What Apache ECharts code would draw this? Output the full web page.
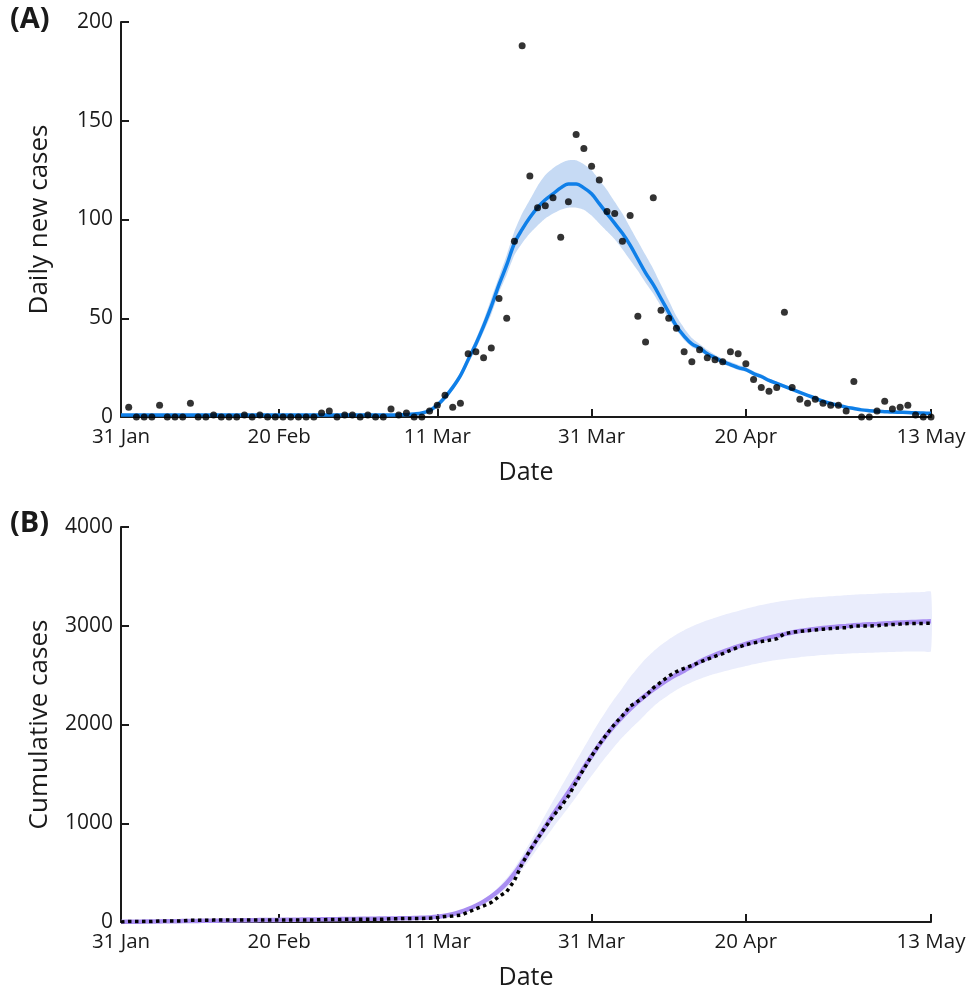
<!DOCTYPE html>
<html><head><meta charset="utf-8">
<script src="https://cdn.jsdelivr.net/npm/echarts@6/dist/echarts.min.js"></script>
<style>html,body{margin:0;padding:0;background:#fff}#c{width:975px;height:992px}</style>
</head><body><div id="c"></div>
<script>
// ---- x axis (day index: 0 = 31 Jan) ----
const dayTicks = [0, 20.5, 41, 61, 81, 105];
const dayTickLabels = ['31 Jan', '20 Feb', '11 Mar', '31 Mar', '20 Apr', '13 May'];

// ---- Panel A: daily new cases (observed dots start at day 1) ----
const dailyStartDay = 1;
const dailyCases = [
  5,0,0,0,6,0,0,0,7,0, 0,1,0,0,0,1,0,1,0,0,
  0,0,0,0,0,2,3,0,1,1, 0,1,0,0,4,1,2,0,0,3,
  6,11,5,7,32,33,30,35,60,50, 89,188,122,106,107,111,91,109,143,136,
  127,120,104,103,89,102,51,38,111,54, 50,45,33,28,34,30,29,28,33,32,
  27,19,15,13,15,53,15,9,7,9, 7,6,6,3,18,0,0,3,8,4,
  5,6,1,0,0
];
// fitted daily curve, days 0..105
const fitDaily = [
  1,1,1,1,1,1,1,1,1,1, 1,1,1,1,1,1,1,1,1,1,
  1,1,1,1,1,1,1,1,1,1, 1,1,1,1,1,1,1.1,1.2,1.5,2,
  3.3,6,10,15,21,29,37,46,56,67, 77,88,95,101,106,110,113,116,118,118,
  116,113,108,103,98,93,87,80,73,67, 60,53,46,41,37,35,32,30,28,26.5,
  25,24,22,20.5,18.5,17,15.5,14,12.5,11, 9.5,8,6.8,6,5,4.3,3.6,3.2,2.9,2.7,
  2.5,2.4,2.3,2.1,2,1.9
];
// confidence band of the daily fit, from day 36
const bandStartA = 36;
const fitDailyUpper = [
  1.3,1.5,1.8,2.3,
  3.5,6.5,11,16.5,22.5,31,39.5,49,60,71,
  82,94,103,110,117,122.5,126,128.5,130,130,
  128,125,120,115,109,103,96,89,82,75,
  67,59,51,45,40,37,34,31.5,29.5,28,
  26.5,25.2,23.2,21.6,19.5,18,16.4,14.8,13.2,11.6,
  10,8.5,7.2,6.3,5.3,4.6,3.9,3.4,3.1,2.9,
  2.7,2.6,2.5,2.3,2.2,2.1
];
const fitDailyLower = [
  0.9,1.0,1.3,1.8,
  3.1,5.5,9,13.5,19.5,27,34.5,43,52,63,
  72,82,88,93,97,100.5,103,105,106,106,
  105,102,98,94,90,85,79.5,74,68,62.5,
  56,50,44,39,35.5,33.5,30.7,28.8,26.8,25.3,
  23.8,22.9,21,19.5,17.6,16.1,14.7,13.3,11.9,10.5,
  9,7.6,6.4,5.7,4.8,4.1,3.4,3.0,2.7,2.5,
  2.3,2.2,2.1,1.9,1.8,1.7
];

// ---- Panel B: cumulative cases, days 0..105 ----
const cumObserved = [
  0,5,5,5,5,11,11,11,11,18, 18,18,19,19,19,19,20,20,21,21,
  21,21,21,21,21,21,23,26,26,27, 28,28,29,29,29,33,34,36,36,36,
  39,45,56,61,68,100,133,163,198,258, 308,420,590,725,845,960,1070,1165,1275,1415,
  1550,1680,1800,1905,2005,2090,2185,2235,2290,2370, 2430,2490,2535,2568,2597,2630,2660,2690,2718,2750,
  2782,2808,2826,2840,2853,2868,2920,2934,2943,2950, 2958,2965,2971,2977,2980,2997,2997,2997,3000,3008,
  3012,3017,3023,3024,3024,3025
];
const cumFit = [
  1,2,3,4,5,6,7,8,9,10, 11,12,13,14,15,16,17,18,19,20,
  21,22,23,24,25,26,27,28,29,30, 31,32,33,34,35,36,37,38,40,42,
  46,53,64,80,102,130,165,207,258,320, 395,490,600,720,845,965,1085,1200,1315,1435,
  1560,1680,1795,1900,1995,2080,2158,2230,2295,2355, 2410,2460,2505,2545,2590,2635,2672,2705,2735,2763,
  2790,2815,2838,2860,2880,2898,2915,2932,2946,2958, 2968,2977,2985,2992,2998,3004,3009,3014,3019,3024,
  3028,3032,3036,3039,3042,3045
];
const bandStartB = 38;
const cumUpper = [
  42,44,49,57,70,89,114,
  145,183,229,285,360,
  445,550,672,805,945,1085,1225,1360,1495,1630,
  1765,1900,2030,2150,2265,2370,2480,2575,2665,2740,
  2805,2862,2912,2955,2992,3025,3055,3082,3107,3130,
  3150,3172,3192,3210,3226,3240,3252,3263,3273,3281,
  3288,3294,3300,3305,3310,3314,3318,3322,3325,3328,
  3331,3334,3337,3339,3342,3344
];
const cumLower = [
  38,40,43,49,58,72,91,
  116,146,182,227,280,
  350,435,530,635,745,850,955,1058,1160,1265,
  1375,1480,1585,1685,1780,1870,1950,2025,2105,2180,
  2245,2300,2350,2392,2428,2460,2488,2513,2535,2555,
  2574,2592,2610,2626,2640,2652,2663,2673,2682,2690,
  2697,2703,2708,2713,2717,2721,2724,2727,2730,2732,
  2734,2736,2738,2739,2740,2741
];

// ---- helpers (build library data from the arrays) ----
const pairs = (start, arr) => arr.map((v, i) => [start + i, v]);

// band drawn as one polygon through the axes' own coordinate system
function bandSeries(xi, yi, start, upper, lower, color) {
  return {
    type: 'custom', xAxisIndex: xi, yAxisIndex: yi, silent: true, z: 1,
    data: [[start, upper[0]]],
    renderItem: (params, api) => {
      const pts = [];
      for (let i = 0; i < upper.length; i++) pts.push(api.coord([start + i, upper[i]]));
      for (let i = lower.length - 1; i >= 0; i--) pts.push(api.coord([start + i, lower[i]]));
      return { type: 'polygon', shape: { points: pts, smooth: 0.2 }, style: { fill: color } };
    }
  };
}

const FONT = 'Open Sans';
const INK = '#1a1a1a';

function xAxisCfg(gi) {
  return {
    type: 'value', gridIndex: gi, min: 0, max: 105,
    name: 'Date', nameLocation: 'middle', nameGap: 43,
    nameTextStyle: { fontFamily: FONT, fontSize: 25, color: INK },
    axisLine: { show: true, onZero: false, lineStyle: { color: INK, width: 2 } },
    axisTick: { show: true, inside: true, length: 8, customValues: dayTicks, lineStyle: { color: INK, width: 2 } },
    axisLabel: {
      customValues: dayTicks, margin: 10, fontFamily: FONT, fontSize: 20.5, color: INK,
      formatter: v => { const i = dayTicks.indexOf(v); return i >= 0 ? dayTickLabels[i] : ''; }
    },
    splitLine: { show: false }
  };
}
function yAxisCfg(gi, max, interval, name) {
  return {
    type: 'value', gridIndex: gi, min: 0, max: max, interval: interval,
    name: name, nameLocation: 'middle', nameGap: 68, nameRotate: 90,
    nameTextStyle: { fontFamily: FONT, fontSize: 26, color: INK },
    axisLine: { show: true, lineStyle: { color: INK, width: 2 } },
    axisTick: { show: true, inside: true, length: 8, lineStyle: { color: INK, width: 2 } },
    axisLabel: { margin: 8, fontFamily: FONT, fontSize: 21, color: INK, formatter: v => String(v) },
    splitLine: { show: false }
  };
}

const chart = echarts.init(document.getElementById('c'), null, { renderer: 'canvas' });
chart.setOption({
  backgroundColor: '#fff',
  animation: false,
  grid: [
    { left: 121, width: 810, top: 22, height: 395 },
    { left: 121, width: 810, top: 527, height: 395 }
  ],
  xAxis: [xAxisCfg(0), xAxisCfg(1)],
  yAxis: [yAxisCfg(0, 200, 50, 'Daily new cases'), yAxisCfg(1, 4000, 1000, 'Cumulative cases')],
  graphic: [
    { type: 'text', left: 10, top: 5, style: { text: '(A)', font: 'bold 29px "Open Sans"', fill: INK } },
    { type: 'text', left: 10, top: 509, style: { text: '(B)', font: 'bold 29px "Open Sans"', fill: INK } }
  ],
  series: [
    bandSeries(0, 0, bandStartA, fitDailyUpper, fitDailyLower, '#c6daf4'),
    { type: 'line', xAxisIndex: 0, yAxisIndex: 0, data: pairs(0, fitDaily), symbol: 'none', smooth: 0.35,
      lineStyle: { color: '#0f7fe8', width: 3.5 }, z: 3 },
    { type: 'scatter', xAxisIndex: 0, yAxisIndex: 0, data: pairs(dailyStartDay, dailyCases),
      symbolSize: 7, itemStyle: { color: '#000' }, clip: false, z: 5 },

    bandSeries(1, 1, bandStartB, cumUpper, cumLower, '#eaedfc'),
    { type: 'line', xAxisIndex: 1, yAxisIndex: 1, data: pairs(0, cumFit), symbol: 'none', smooth: 0.3,
      lineStyle: { color: '#a98ef2', width: 4.5 }, z: 3 },
    { type: 'line', xAxisIndex: 1, yAxisIndex: 1, data: pairs(0, cumObserved), symbol: 'none',
      lineStyle: { color: '#000', width: 3.5, type: [3.5, 3.5], cap: 'butt' }, z: 4 }
  ]
});
</script>
</body></html>
